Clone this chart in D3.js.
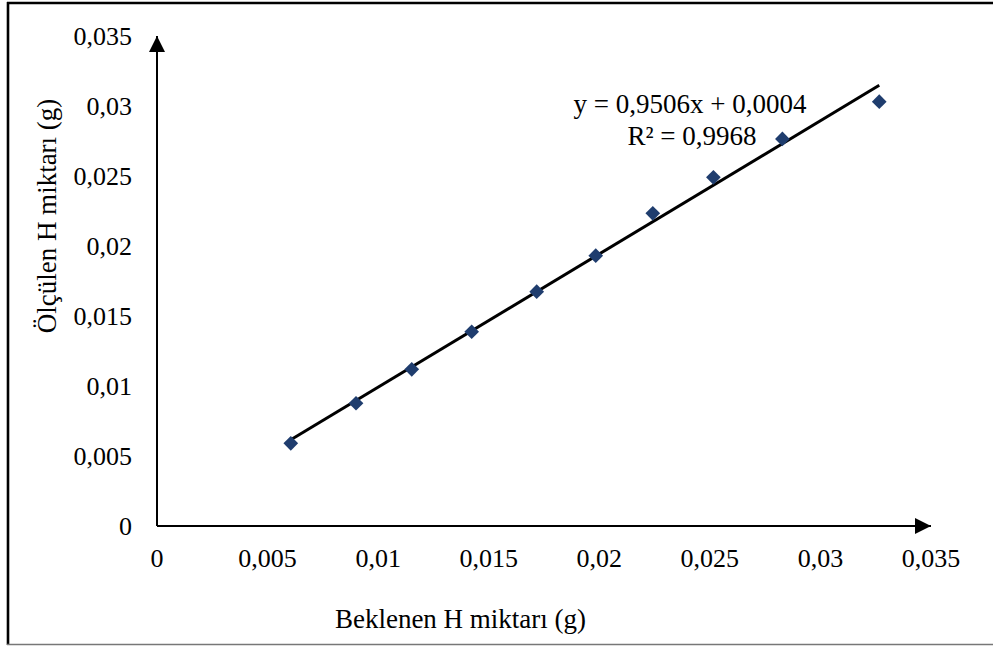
<!DOCTYPE html>
<html>
<head>
<meta charset="utf-8">
<script src="https://cdn.jsdelivr.net/npm/d3@7/dist/d3.min.js"></script>
<style>
  html, body { margin: 0; padding: 0; background: #fff; }
  svg { display: block; }
  text { font-family: "Liberation Serif", "Times New Roman", serif; fill: #000; }
</style>
</head>
<body>
<svg id="chart" width="993" height="646"></svg>
<script>
// ---- data ----
const expected = [0.00605, 0.0090, 0.01152, 0.01423, 0.01717, 0.01984, 0.02242, 0.02516, 0.02828, 0.03266];
const measured = [0.00590, 0.00876, 0.01118, 0.01386, 0.01672, 0.01929, 0.02231, 0.02488, 0.02762, 0.03028];
const xTickValues = [0, 0.005, 0.01, 0.015, 0.02, 0.025, 0.03, 0.035];
const xTickLabels = ["0", "0,005", "0,01", "0,015", "0,02", "0,025", "0,03", "0,035"];
const yTickValues = [0, 0.005, 0.01, 0.015, 0.02, 0.025, 0.03, 0.035];
const yTickLabels = ["0", "0,005", "0,01", "0,015", "0,02", "0,025", "0,03", "0,035"];
const slope = 0.9506;
const intercept = 0.0004;
const equationLines = ["y = 0,9506x + 0,0004", "R² = 0,9968"];
const xTitle = "Beklenen H miktarı (g)";
const yTitle = "Ölçülen H miktarı (g)";

const svg = d3.select("#chart");

// frame
svg.append("rect").attr("x", 0).attr("y", 0).attr("width", 993).attr("height", 646).attr("fill", "#fff");
svg.append("line").attr("x1", 8).attr("x2", 8).attr("y1", 2).attr("y2", 645)
  .attr("stroke", "#000").attr("stroke-width", 2.6);
svg.append("line").attr("x1", 7).attr("x2", 993).attr("y1", 3).attr("y2", 3)
  .attr("stroke", "#000").attr("stroke-width", 2.6);
svg.append("line").attr("x1", 7).attr("x2", 993).attr("y1", 644.5).attr("y2", 644.5)
  .attr("stroke", "#777").attr("stroke-width", 1.5);

const x = d3.scaleLinear().domain([0, 0.035]).range([157, 931]);
const y = d3.scaleLinear().domain([0, 0.035]).range([526, 35.5]);

// axes lines with arrows
const defs = svg.append("defs");
defs.append("marker").attr("id", "arrow").attr("viewBox", "0 0 16 16")
  .attr("refX", 16).attr("refY", 8).attr("markerWidth", 16).attr("markerHeight", 16)
  .attr("markerUnits", "userSpaceOnUse").attr("orient", "auto")
  .append("path").attr("d", "M0,0 L16,8 L0,16 Z").attr("fill", "#000");

svg.append("line").attr("x1", x(0)).attr("y1", y(0)).attr("x2", 931).attr("y2", y(0))
  .attr("stroke", "#000").attr("stroke-width", 2).attr("marker-end", "url(#arrow)");
svg.append("line").attr("x1", x(0)).attr("y1", y(0)).attr("x2", x(0)).attr("y2", 36)
  .attr("stroke", "#000").attr("stroke-width", 2).attr("marker-end", "url(#arrow)");

// tick labels
svg.append("g").selectAll("text").data(xTickValues).join("text")
  .attr("x", d => x(d)).attr("y", 567)
  .attr("text-anchor", "middle").attr("font-size", 26)
  .text((d, i) => xTickLabels[i]);

svg.append("g").selectAll("text").data(yTickValues).join("text")
  .attr("x", 132).attr("y", d => y(d) + 9)
  .attr("text-anchor", "end").attr("font-size", 26)
  .text((d, i) => yTickLabels[i]);

// axis titles
svg.append("text").attr("x", 460.5).attr("y", 628).attr("text-anchor", "middle")
  .attr("font-size", 27).text(xTitle);
svg.append("text").attr("transform", "translate(56,216) rotate(-90)").attr("text-anchor", "middle")
  .attr("font-size", 27).text(yTitle);

// trendline
const xmin = d3.min(expected), xmax = d3.max(expected);
svg.append("line")
  .attr("x1", x(xmin)).attr("y1", y(slope * xmin + intercept))
  .attr("x2", x(xmax)).attr("y2", y(slope * xmax + intercept))
  .attr("stroke", "#000").attr("stroke-width", 3);

// markers
const sym = d3.symbol().type(d3.symbolSquare).size(108);
svg.append("g").selectAll("path").data(expected).join("path")
  .attr("d", sym)
  .attr("transform", (d, i) => `translate(${x(d)},${y(measured[i])}) rotate(45)`)
  .attr("fill", "#1F3D6E");

// equation
svg.append("text").attr("x", 690).attr("y", 113).attr("text-anchor", "middle")
  .attr("font-size", 27).text(equationLines[0]);
svg.append("text").attr("x", 692).attr("y", 145).attr("text-anchor", "middle")
  .attr("font-size", 27).text(equationLines[1]);
</script>
</body>
</html>
